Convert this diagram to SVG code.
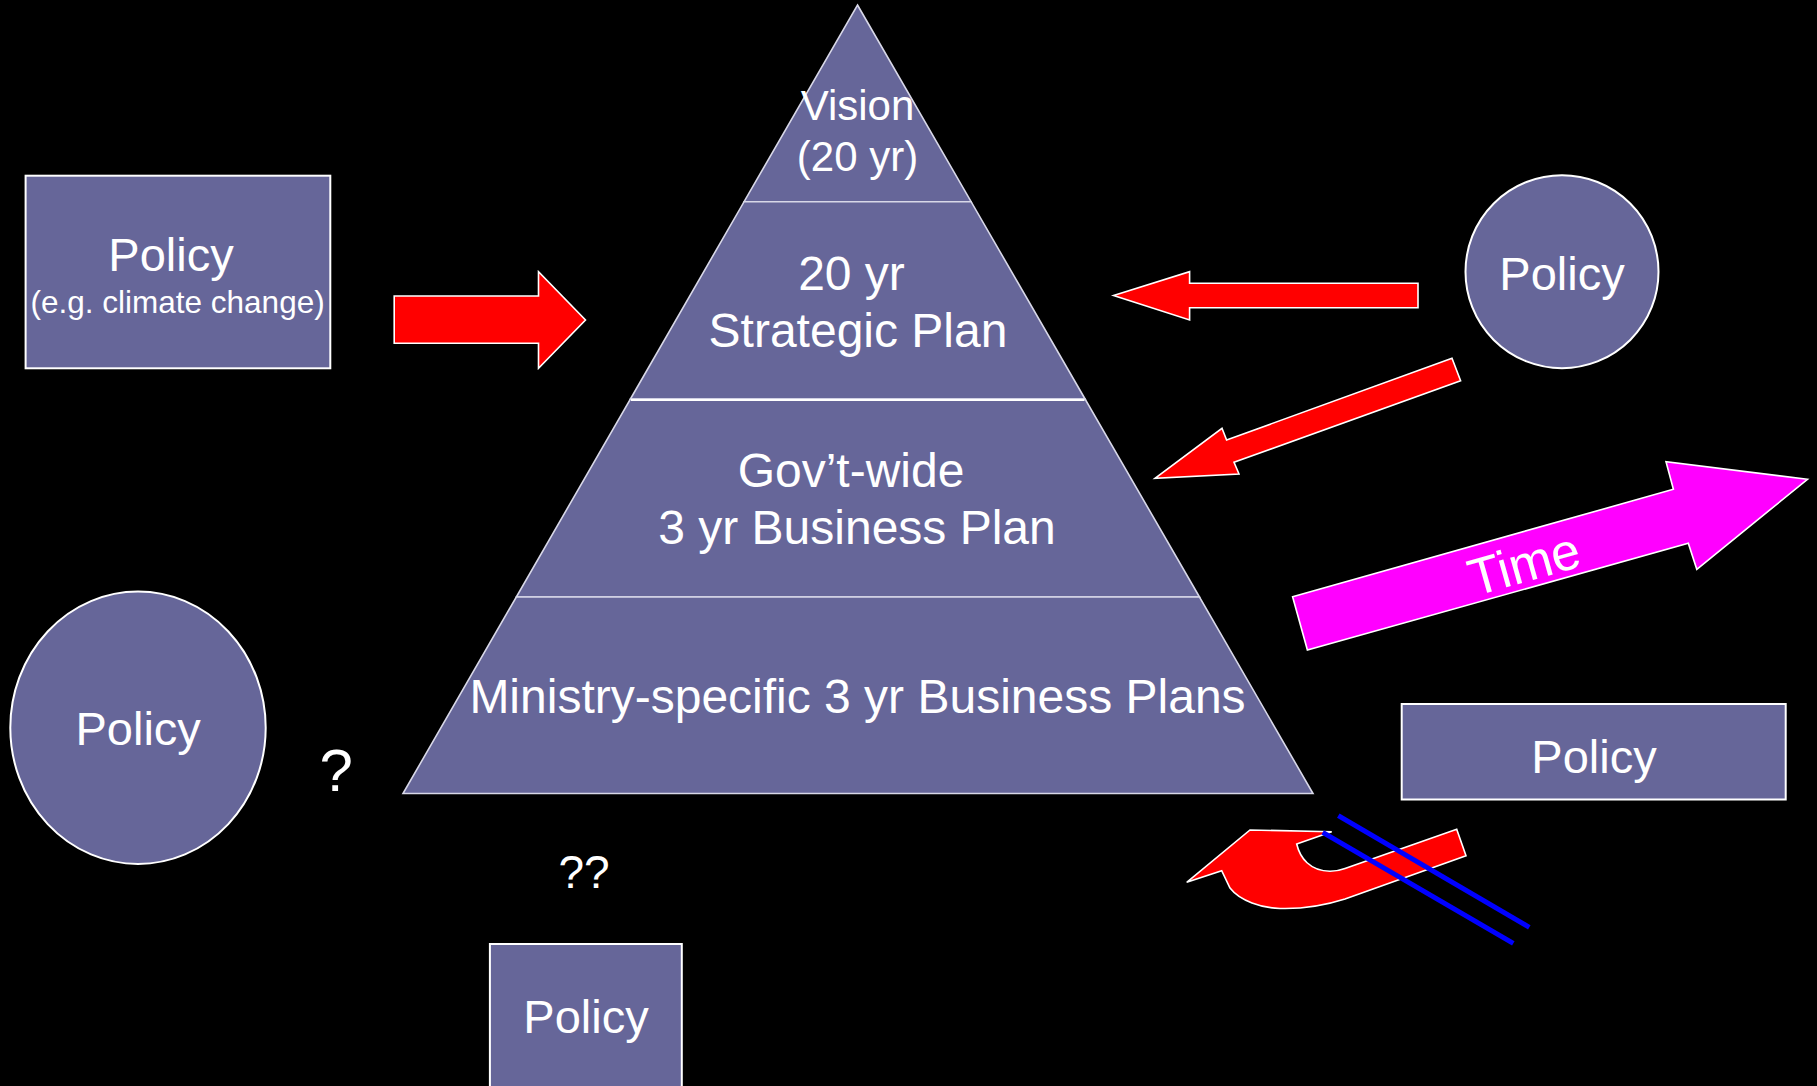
<svg xmlns="http://www.w3.org/2000/svg" width="1817" height="1086" viewBox="0 0 1817 1086">
<style>
.node{fill:#666699;stroke:#ffffff;stroke-width:2}
.lvl{fill:#666699;stroke:#d8d8e8;stroke-width:1.6}
.t{font-family:"Liberation Sans",Arial,Helvetica,sans-serif;fill:#ffffff;text-anchor:middle}
.big{font-size:47px}
.pyr{font-size:48px}
.red{fill:#ff0000;stroke:#ffffff;stroke-width:1.6;stroke-linejoin:miter}
.mag{fill:#ff00ff;stroke:#ffffff;stroke-width:1.6}
.blue{stroke:#0000ff;stroke-width:5;fill:none}
</style>
<rect x="0" y="0" width="1817" height="1086" fill="#000000"/>

<g id="pyramid">
  <g id="level-vision">
    <polygon class="lvl" points="857.5,5 971.1,201.7 744.1,201.7"/>
    <text class="t" x="857.5" y="120" font-size="42">Vision</text>
    <text class="t" x="857.5" y="171" font-size="42">(20 yr)</text>
  </g>
  <g id="level-strategic">
    <polygon class="lvl" points="744.1,201.7 971.1,201.7 1085.1,399 630.4,399"/>
    <text class="t pyr" x="851.5" y="290">20 yr</text>
    <text class="t pyr" x="858" y="346.5">Strategic Plan</text>
  </g>
  <g id="level-govwide">
    <polygon class="lvl" points="630.4,399 1085.1,399 1199.5,597 516.3,597"/>
    <line x1="631" y1="400" x2="1084.5" y2="400" stroke="#ffffff" stroke-width="2"/>
    <text class="t pyr" x="851" y="486.5">Gov’t-wide</text>
    <text class="t pyr" x="857" y="544">3 yr Business Plan</text>
  </g>
  <g id="level-ministry">
    <polygon class="lvl" points="516.3,597 1199.5,597 1313,793.5 403,793.5"/>
    <text class="t pyr" x="857.5" y="712.5">Ministry-specific 3 yr Business Plans</text>
  </g>
</g>

<g id="policy-climate">
  <rect class="node" x="25.6" y="175.7" width="304.7" height="192.6"/>
  <text class="t big" x="171" y="270.5">Policy</text>
  <text class="t" x="177.6" y="313.3" font-size="31.5">(e.g. climate change)</text>
</g>

<g id="policy-circle-right">
  <circle class="node" cx="1562" cy="271.7" r="96.5"/>
  <text class="t big" x="1562" y="290">Policy</text>
</g>

<g id="policy-ellipse-left">
  <ellipse class="node" cx="138" cy="727.8" rx="127.7" ry="136.2"/>
  <text class="t big" x="138.2" y="745">Policy</text>
</g>

<g id="policy-rect-right">
  <rect class="node" x="1401.7" y="704" width="384" height="95.5"/>
  <text class="t big" x="1594" y="773">Policy</text>
</g>

<g id="policy-rect-bottom">
  <rect class="node" x="489.9" y="944" width="191.9" height="150"/>
  <text class="t big" x="586" y="1033.3">Policy</text>
</g>

<g id="questions">
  <text class="t" x="336.3" y="790.7" font-size="60">?</text>
  <text class="t" x="584" y="888.3" font-size="46">??</text>
</g>

<g id="connectors">
  <polygon class="red" points="394.2,296 538.5,296 538.5,271.7 585.5,320 538.5,368.3 538.5,343.3 394.2,343.3"/>
  <polygon class="red" points="1418,283.3 1189.6,283.3 1189.6,271.7 1113.6,295.5 1189.6,320 1189.6,307.7 1418,307.7"/>
  <polygon class="red" points="1452,358.3 1226.6,440 1222,428.3 1155,478.3 1239,474 1234,462.3 1460.6,380.7"/>
  <polygon class="mag" points="1292.6,596.7 1673.4,489.3 1666,461.7 1807.5,479.3 1696.8,569.3 1688.3,543.3 1307.4,650"/>
  <text class="t" x="1529" y="581" font-size="52" transform="rotate(-15.75 1529 581)">Time</text>
  <path class="red" d="M1456.7,829.3 L1466,855.7 L1345,899 C1320,907 1298,909 1280,908.5 C1262,908 1240,901 1230,888 L1221.7,870.7 L1186.7,882.3 L1250,830 L1331.7,831.7 L1296.7,844 C1300,858 1310,871 1330,871.3 C1336,871.3 1341,870 1345,868.5 Z"/>
  <line class="blue" x1="1338.3" y1="815.7" x2="1529.3" y2="927.3"/>
  <line class="blue" x1="1322.7" y1="832.3" x2="1513.3" y2="943.3"/>
</g>
</svg>
